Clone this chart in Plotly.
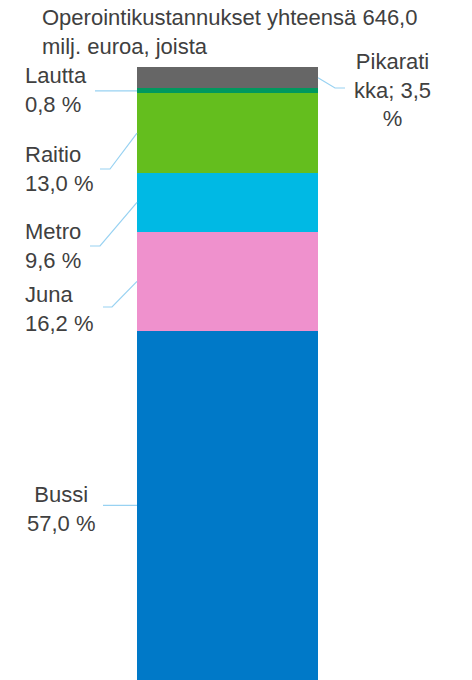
import plotly.graph_objects as go

# share of operating costs by mode, bottom to top of the stacked bar
modes = ["Bussi", "Juna", "Metro", "Raitio", "Lautta", "Pikaratikka"]
shares = [57.0, 16.2, 9.6, 13.0, 0.8, 3.5]
label_texts = ["Bussi<br>57,0 %", "Juna<br>16,2 %", "Metro<br>9,6 %",
               "Raitio<br>13,0 %", "Lautta<br>0,8 %", "Pikarati<br>kka; 3,5<br>%"]
colors = ["#0079C8", "#EF91CD", "#00B9E4", "#64BE1E", "#00985F", "#666666"]
title_text = "Operointikustannukset yhteensä 646,0<br>milj. euroa, joista"

W, H = 472, 680
TOP = 67
total = sum(shares)

# helpers: pixel -> data coords (bar sits at x=0 with width 1)
BAR_L, BAR_R = 137, 318
bar_c = (BAR_L + BAR_R) / 2
bar_w = BAR_R - BAR_L


def px_x(p):
    return (p - bar_c) / bar_w


def px_y(p):
    return (H - p) / (H - TOP) * total


fig = go.Figure()
for name, val, col in zip(modes, shares, colors):
    fig.add_trace(go.Bar(x=[0], y=[val], name=name, width=1,
                         marker=dict(color=col, line=dict(width=0)),
                         hoverinfo="skip"))

# segment middles
mids = []
acc = 0
for v in shares:
    mids.append(acc + v / 2)
    acc += v

font = dict(family="Arial, Liberation Sans, sans-serif", size=22, color="#404040")
line_col = "#98D2F2"
left = px_x(BAR_L)
right = px_x(BAR_R)

# label anchors (pixel x, pixel y, xanchor, align)
label_pos = [(61, 509, "center", "center"),
             (23, 309, "left", "left"),
             (23, 246, "left", "left"),
             (23, 169, "left", "left"),
             (23, 90, "left", "left"),
             (392, 90, "center", "center")]
for txt, (lx, ly, xa, al) in zip(label_texts, label_pos):
    fig.add_annotation(x=px_x(lx), y=px_y(ly), xref="x", yref="y", text=txt,
                       showarrow=False, xanchor=xa, yanchor="middle", align=al,
                       font=font)

# title block (paper coords, above the plot area)
fig.add_annotation(x=40 / W, y=1 + (TOP - 32) / (H - TOP),
                   xref="paper", yref="paper", text=title_text,
                   showarrow=False, xanchor="left", yanchor="middle", align="left",
                   font=font)

# leader lines
leaders = [
    [(px_x(103), mids[0]), (left, mids[0])],
    [(px_x(103), px_y(307)), (px_x(112), px_y(307)), (left, mids[1])],
    [(px_x(90), px_y(246)), (px_x(100), px_y(246)), (left, mids[2])],
    [(px_x(100), px_y(169)), (px_x(110), px_y(169)), (left, mids[3])],
    [(px_x(95), mids[4]), (left, mids[4])],
    [(right, mids[5]), (px_x(335), px_y(88)), (px_x(345), px_y(88))],
]
for pts in leaders:
    path = "M " + " L ".join(f"{x},{y}" for x, y in pts)
    fig.add_shape(type="path", path=path, xref="x", yref="y",
                  line=dict(color=line_col, width=1.2))

fig.update_layout(
    width=W, height=H,
    barmode="stack",
    showlegend=False,
    hovermode=False,
    plot_bgcolor="white", paper_bgcolor="white",
    margin=dict(l=0, r=0, t=TOP, b=0),
    xaxis=dict(range=[px_x(0), px_x(W)], visible=False, fixedrange=True),
    yaxis=dict(range=[0, total], visible=False, fixedrange=True),
)

# drop the default 8px page margin so the figure fills the window
fig.write_html("out.html", config={"displayModeBar": False},
               post_script="document.body.style.margin='0';")
